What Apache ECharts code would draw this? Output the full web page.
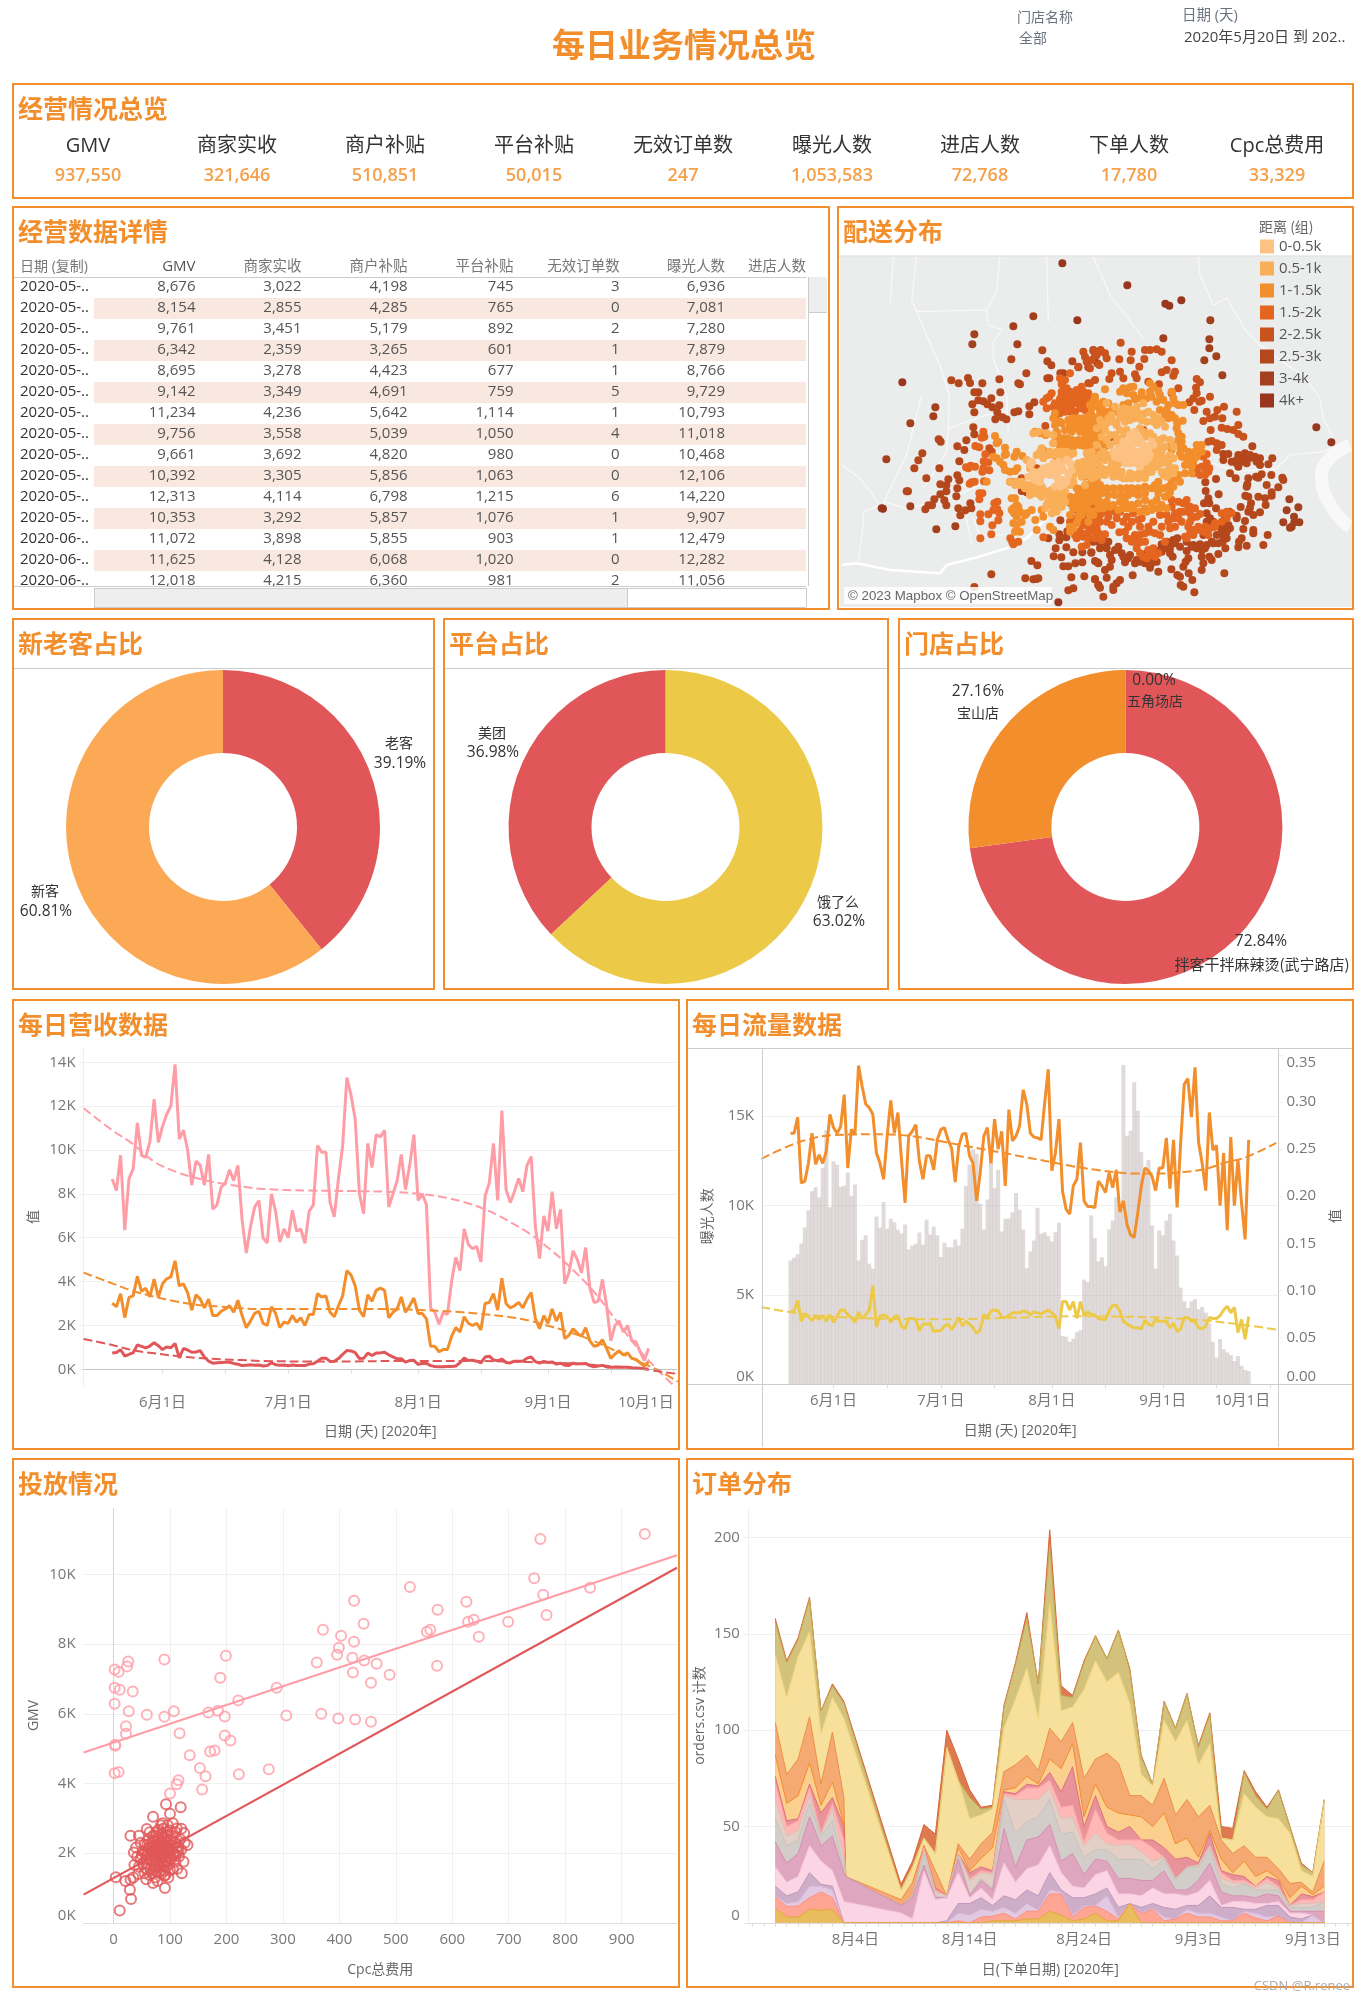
<!DOCTYPE html>
<html><head><meta charset="utf-8"><title>每日业务情况总览</title>
<script src="https://cdn.jsdelivr.net/npm/echarts@6/dist/echarts.min.js"></script>
<style>html,body{margin:0;padding:0;background:#fff}#c{width:1366px;height:2000px}</style></head>
<body><div id="c"></div><script>
const kpiNames=['GMV','商家实收','商户补贴','平台补贴','无效订单数','曝光人数','进店人数','下单人数','Cpc总费用'];
const kpiValues=['937,550','321,646','510,851','50,015','247','1,053,583','72,768','17,780','33,329'];
const tableHeaders=['日期 (复制)','GMV','商家实收','商户补贴','平台补贴','无效订单数','曝光人数','进店人数'];
const tableDates=['2020-05-..','2020-05-..','2020-05-..','2020-05-..','2020-05-..','2020-05-..','2020-05-..','2020-05-..','2020-05-..','2020-05-..','2020-05-..','2020-05-..','2020-06-..','2020-06-..','2020-06-..'];
const gmvHead=[8676,8154,9761,6342,8695,9142,11234,9756,9661,10392,12313,10353,11072,11625,12018];
const merchantHead=[3022,2855,3451,2359,3278,3349,4236,3558,3692,3305,4114,3292,3898,4128,4215];
const subsidyHead=[4198,4285,5179,3265,4423,4691,5642,5039,4820,5856,6798,5857,5855,6068,6360];
const platformHead=[745,765,892,601,677,759,1114,1050,980,1063,1215,1076,903,1020,981];
const invalidHead=[3,0,2,1,1,5,1,4,0,0,6,1,1,0,2];
const exposureHead=[6936,7081,7280,7879,8766,9729,10793,11018,10468,12106,14220,9907,12479,12282,11056];

const gmvTail=[13900,10500,10900,10000,8400,9500,9300,8400,9800,7300,7500,8300,8500,9100,8600,9300,6800,5300,6500,7400,7700,6000,5750,8000,7200,5800,6400,6000,7250,6300,6400,5750,7200,7500,10200,9900,9900,7600,6950,8700,10200,13300,12500,11400,8000,7100,10300,9200,10700,10600,10900,7400,8000,8600,9800,8200,9300,10700,7700,8000,7500,2800,2600,2050,2600,2500,4000,5100,4500,6400,5700,5500,5600,4900,7900,8500,10300,7700,11800,8200,7600,8100,8700,8100,9300,9700,6500,5050,7000,6300,8100,6400,7300,3900,4400,5400,5000,4400,5550,3700,3050,3100,4100,2900,1300,2000,2200,1700,2000,1300,1250,800,400,950];
const merchantTail=[4950,3800,3900,3500,2700,3400,3200,2800,3200,2450,2450,2650,2750,2900,2600,3150,2450,1900,2200,2550,2650,2100,2000,2850,2550,1900,2150,2100,2450,2150,2350,2000,2500,2500,3450,3300,3350,2600,2400,2900,3350,4500,4300,3800,2700,2400,3400,3100,3600,3700,3600,2350,2600,2750,3300,2600,2900,3250,2550,2550,2300,1050,1050,800,900,900,1500,1900,1700,2400,2100,2000,2100,1800,3000,3050,3450,2700,4150,3000,2800,2900,3050,2800,3200,3500,2300,1850,2450,2100,2750,2200,2600,1400,1550,1850,1650,1500,1900,1300,1050,1100,1350,950,500,700,850,650,750,500,450,300,150,350];
const platformTail=[1180,520,950,880,780,790,850,560,370,280,300,310,320,320,270,230,170,190,210,190,200,150,170,290,210,190,200,160,200,170,170,170,240,250,370,510,510,360,370,490,680,860,840,760,490,500,740,630,740,750,780,660,570,480,480,330,400,410,230,270,270,170,130,120,120,130,130,150,300,520,400,420,370,300,560,600,430,390,470,310,290,370,370,370,510,560,350,290,360,310,340,240,280,190,180,280,240,260,270,170,120,150,180,110,90,100,110,90,90,70,60,50,30,0];
const exposureTail=[11100,11850,10550,11170,6930,8090,8330,6750,6470,9390,8750,10200,8700,9260,9070,8640,8440,8940,7550,7770,7860,8490,7800,9200,8380,8830,8330,7120,7920,7660,7660,8100,7770,8700,11100,12300,13150,12900,10100,8640,10330,12500,11000,12000,8550,9260,9270,9630,10700,9760,8660,6490,7430,8050,9870,8420,8510,8290,7990,8510,9030,2700,2660,2380,2550,2920,3030,5850,5720,9440,8180,6880,7100,6600,8660,9160,10460,9630,17860,13900,14180,16900,15300,13000,11770,12550,8880,6470,8600,8330,9160,9540,8050,7210,5410,4650,4270,4650,4760,4200,4330,4010,3400,2380,1490,2530,1970,1780,1640,1300,1580,1040,800,740];
const enterRate=[.267,.267,.284,.214,.216,.235,.267,.234,.244,.235,.248,.287,.273,.267,.274,.308,.230,.271,.266,.339,.317,.298,.294,.287,.246,.235,.218,.264,.302,.267,.289,.239,.193,.264,.269,.276,.237,.218,.243,.243,.228,.260,.271,.273,.260,.251,.215,.253,.266,.267,.243,.235,.195,.225,.264,.273,.235,.282,.250,.269,.211,.292,.259,.264,.275,.313,.298,.267,.263,.262,.260,.299,.335,.227,.246,.282,.205,.186,.181,.211,.218,.257,.195,.189,.189,.188,.216,.211,.204,.225,.209,.228,.183,.195,.170,.159,.156,.182,.211,.230,.227,.221,.206,.230,.230,.262,.208,.260,.188,.257,.319,.325,.284,.337,.257,.235,.206,.289,.249,.254,.190,.246,.164,.263,.190,.239,.193,.154,.260];
const orderRate=[.077,.078,.089,.067,.075,.072,.068,.072,.069,.073,.067,.074,.066,.072,.079,.079,.074,.071,.066,.077,.070,.074,.079,.105,.061,.072,.074,.072,.066,.072,.073,.062,.059,.070,.070,.069,.057,.064,.064,.065,.056,.057,.057,.062,.064,.058,.064,.071,.062,.067,.064,.060,.054,.058,.074,.071,.078,.079,.078,.071,.071,.073,.076,.076,.076,.078,.077,.074,.077,.076,.075,.077,.079,.076,.072,.059,.088,.088,.079,.088,.070,.088,.073,.077,.074,.074,.070,.069,.069,.078,.084,.084,.078,.067,.064,.062,.060,.060,.059,.068,.064,.062,.069,.067,.067,.067,.060,.065,.056,.059,.071,.071,.067,.067,.060,.059,.062,.071,.070,.070,.073,.079,.083,.076,.082,.055,.069,.048,.072];

const revTrendDays=[-6.84,0,4.74,10,15.3,20.5,25.8,31,36.3,46.8,57.4,67.9,73.2,78.4,83.7,88.9,94.2,99.5,104.7,110,115.3,120.5,125.8,131,135];
const gmvTrend=[11900,10900,10300,9470,9000,8700,8480,8330,8220,8150,8130,8080,8000,7870,7640,7300,6800,6200,5440,4530,3460,2170,880,-180,-900];
const merchantTrend=[4410,3920,3590,3310,3090,2930,2860,2780,2750,2750,2750,2740,2710,2660,2600,2510,2400,2220,1950,1640,1260,810,350,-110,-560];
const platformTrend=[1380,1110,880,730,610,520,460,420,380,360,360,380,380,380,380,380,350,330,300,270,200,120,40,-110,-210];
const rateTrendDays=[-8.17,-.6,5.5,11.6,17.7,23.8,29.9,36,42,48.2,54.3,60.4,66.5,72.6,78.7,84.8,90.9,97,103,109.1,115.2,121.3,127.4,135.7];
const enterTrend=[.2397,.2532,.261,.2649,.2656,.266,.2652,.2628,.2585,.2539,.2496,.2454,.2408,.2365,.2319,.2284,.2255,.2241,.2241,.2255,.2284,.2355,.2418,.2567];
const orderTrendDays=[-8.17,-.6,5.5,17.7,29.9,42,54.3,66.5,78.7,90.9,103,115.2,127.4,135.7];
const orderTrend=[.0819,.077,.0738,.0706,.0695,.0691,.0699,.0713,.0723,.072,.0709,.0681,.0628,.0582];

const cpcHigh=[[941,11163],[756,11015],[745,9892],[761,9419],[844,9616],[767,8837],[525,9635],[426,9241],[574,8985],[625,9212],[638,8700],[628,8640],[699,8640],[443,8581],[561,8414],[555,8355],[371,8414],[403,8236],[647,8207],[426,8069],[399,7892],[396,7695],[423,7606],[199,7665],[90,7557],[26,7498],[24,7360],[2,7271],[9,7202],[444,7527],[360,7468],[466,7438],[573,7379],[489,7123],[424,7182],[189,7034],[456,6887],[289,6749],[2,6749],[11,6690],[34,6640],[221,6384],[2,6286],[27,6069],[107,6069],[185,6089],[168,6039],[59,5970],[90,5911],[197,5921],[306,5951],[368,6000],[398,5862],[428,5833],[456,5773],[22,5645],[22,5429],[117,5438],[197,5379],[207,5232],[3,5113],[3,5084],[135,4808],[171,4916],[179,4946],[153,4443],[275,4404],[222,4266],[163,4207],[2,4296],[9,4325],[115,4089],[112,3980],[157,3823],[100,3714]];
const cpcLow=[[93,3406],[119,3318],[70,3044],[100,3130],[59,2690],[87,2857],[105,2857],[79,2660],[112,2710],[125,2580],[30,2500],[45,2500],[131,2230],[40,2160],[36,2020],[124,1750],[121,1420],[113,1550],[92,1370],[4,1310],[35,1300],[30,1240],[21,1200],[70,1140],[78,1200],[29,950],[91,1000],[31,680],[11,350],[64,1370],[55,1420],[37,1660],[45,1610],[48,1830],[52,2050],[55,2240],[58,1700],[60,1950],[62,2150],[62,2380],[65,1560],[66,1800],[68,2050],[68,2280],[70,2500],[72,1650],[72,1900],[74,2150],[74,2350],[76,1480],[76,2600],[78,1750],[78,2000],[80,2250],[80,2450],[82,1600],[82,1850],[84,2100],[84,2300],[85,1400],[85,2550],[87,1700],[87,1950],[88,2200],[88,2700],[90,1500],[90,2050],[92,2350],[92,1800],[94,1600],[94,2150],[95,2500],[96,1900],[97,1300],[97,2300],[99,1700],[100,2050],[100,2650],[102,1850],[103,2400],[105,1550],[105,2150],[107,1950],[108,2300],[110,2600],[110,1750],[112,2050],[114,2200],[116,1900],[118,2400],[120,2100],[74,1300],[68,1420],[58,1250],[44,1400],[48,2300],[42,1900],[96,2800],[84,2800],[64,2600],[120,2700],[126,2300],
[70,1750],[75,1800],[80,1650],[85,1900],[90,1950],[95,2050],[100,2200],[75,2050],[80,2100],[85,2200],[90,2200],[70,2200],[65,1950],[60,2050],[75,1950],[95,1750],[100,1850],[105,1950],[80,1900],[85,1750],[90,1650],[75,1600],[70,1500],[80,1450],[90,1350],[100,1500],[65,2150],[60,2250],[70,2350],[80,2350],[90,2450],[100,2350],[105,2500],[75,2500],[85,2450],[95,2600],[110,2300],[115,2050],[110,1950],[72,2050],[77,2150],[82,2000],[87,2050],[92,2100],[97,2150],[82,2200],[92,1900],[97,2000],[70,2000],[58,1850],[55,2000],[50,1950],[52,1700],[58,1550]];
const cpcHighTrend=[[-53,4887],[998,10550]];
const cpcLowTrend=[[-53,808],[998,10190]];

const orderDates=['2020-07-28','2020-07-29','2020-07-30','2020-07-31','2020-08-01','2020-08-02','2020-08-03','2020-08-03T04:00','2020-08-08','2020-08-09','2020-08-10','2020-08-11','2020-08-12','2020-08-13','2020-08-14','2020-08-15','2020-08-16','2020-08-17','2020-08-18','2020-08-19','2020-08-20','2020-08-21','2020-08-22','2020-08-23','2020-08-24','2020-08-25','2020-08-26','2020-08-27','2020-08-28','2020-08-29','2020-08-30','2020-08-31','2020-09-01','2020-09-02','2020-09-03','2020-09-04','2020-09-05','2020-09-06','2020-09-07','2020-09-08','2020-09-09','2020-09-10','2020-09-11','2020-09-12','2020-09-13','2020-09-14'];
// running top of each band at each date, top band first
const orderBandTops=[
[158,156,139,104,87,76,73,64,54,42,29,19,14,13.5,7.5],
[136,135,117,77,62,53,50,45,40,31,21,14,10,8.5,3],
[148,147,138,85,66,54,53,48,43,36,24,16,11,8.7,3],
[169,168,151,107,83,72,70,66,62,55,40,26,19,13,7],
[110,110,98,72,61,57,47,46,45,40,32,20,19,16,6.5],
[124,123,117,99,73,65,62,59,53,45,27,19,17,13,7],
[115,114,106,65,51,50,43,34,29,26,11,0,0,0,0],
[115,114,106,24,24,24,24,24,24,24,11,0,0,0,0],
[20,17,17,12,9,9,9,9,9,9,5,0,0,0,0],
[32,29,29,21,14,14,14,14,14,13,2,0,0,0,0],
[51,44,44,40,40,39.5,39,38,36,30,26.6,0,0,0,0],
[46,36,36,27,18,18,17,16,14,13,12,0,0,0,0],
[100,91,91,14,14,14,14,14,13,13,13,1,0,0,0],
[85,74,74,41,39,36,36,36,35,33,26,10,5,1,0],
[69,65,54,33,27,26,23,22,15,14,13,10,4,0,0],
[60,59,56,41,33.5,29,27,26,23,22,18,13,7,3,0],
[61,60,59,47,39,27,26,25,18,17,12,9,6,3.4,1],
[113,112,101,78.5,69,68,67,66,64,49,31,14,8,5,1],
[135,134,116,82,70,67,66,64,46.5,29,21,12,5,2,1],
[161,158,132,87,76,72,70,64,52.5,43,28,17,10,6,2],
[124,124,106,79,72,71,70,64,55,44.5,30,14,6.5,6,2],
[204,196,166,101,85,78,74,70,64,51,40,26,17,15,6],
[123,118,110,94,80,68,60,54,46,32,26,17,16,15,4],
[118,117,112,104,93,81,61,55,47,36,19,13,4,3,1],
[136,135,121,75,55,50,42,40,34,25,18,13,9,8,2],
[149,149,136,85,72,66,59,46.5,38,33,25,15,9,8.7,5],
[137,137,125,88,60,50,46.5,41,38,32,27,18,14,6,1],
[152,152,130,83,57,47,43,40,33,23,15,8,3,2,1],
[132,131,114,66,56,50,43,41,33,23,15,10,10,10,10],
[87,86,77,66,55,43,43,37,33,22,14,8,5,4.6,0],
[72,72,71,61,50,43,39,32,28,22,18,10,7.5,7,0],
[115,115,105,75,57,39,34,34,33,27,15,8,3,1,0],
[101,101,94,56,41,33,23,23,22,17,15,7,2,2,0],
[119,119,105,64,44,34,29,29,29,17,14,9,7,5,0],
[92,91,82,55,34,31,30,30,29,22,16,9,5,3,0],
[109,108,93,61,48,46.5,40,40,38,31,22,14,5,3,0],
[50,44,44,43,33,27,26,23,20,16,9,8,3,1,0],
[49,43,43,36,26,25,22,21,18,14,11,8,1,1,0],
[79,78,67,40,32,24,22,20.5,20,14,11,7,6,5,0],
[68,66,60,34,24,19,19,18,17,13,10,7,5,2.5,0],
[60,59,55,34,27,24,23,21,17,15,10,9,3,1,0],
[69,69,54,28,23,22,19,18,17,14,11,9,3.5,3.5,0],
[50,50,46.5,20.5,13,9,9,9,8,6,5,3,0,0,0],
[31,30,27,21,19,15,12,10,8,6,5,2,0,0,0],
[26,26,24,16,14.5,13.6,12,10,8,6,4,4,4,0,0],
[64,63,63,32,19,16,16,11,11,6,0,0,0,0,0]];
const bandFill=['#dd7a50','#d2c27c','#f6e09c','#f5a973','#fbd08f','#e8929a','#ffb8b6','#e3cfc6','#d3cdc9','#dfa6c0','#fbd5e4','#cdadc8','#e2c9e2','#ffa594','#e9bc5e'];
const bandEdge=['#d9643a','#c4ae55','#f3d77f','#ef8f45','#f28e2b','#e2707a','#ffa5a5','#dcc0b4','#c9c2bd','#d690b0','#f8c6da','#bf98bb','#d8b6d8','#ff8f7a','#e0a93e'];

const mapBandNames=['0-0.5k','0.5-1k','1-1.5k','1.5-2k','2-2.5k','2.5-3k','3-4k','4k+'];
const mapBandColors=['#fdc283','#f9ae58','#f28e2b','#e3651f','#c9531d','#b5471d','#a3401e','#98371e'];
// map readings: west sheet and east sheet of the map, east sheet starts 750 units to the right
const west0=[[580,650],[590,665],[600,670],[610,660],[625,635],[640,625],[655,620],[665,630],[680,615],[690,625],[645,640],[655,650],[670,645],[685,660],[650,665],[665,675],[680,680],[575,620],[570,630],[585,675],[600,680],[670,690],[565,665],[575,665],[610,640],[600,650],[620,650],[635,640],[640,650],[630,660],[655,680],[645,695],[660,695],[695,645]];
const east0=[[120,540],[100,560],[115,560],[130,560],[145,565],[160,570],[175,575],[190,570],[85,580],[70,590],[85,595],[100,590],[115,585],[135,590],[150,590],[170,590],[180,600],[95,610],[110,605],[125,605],[140,610],[155,610],[165,620],[105,625],[140,625],[150,635],[135,530],[125,550],[145,545],[185,560],[125,575],[105,575],[90,610],[75,605],[165,605],[175,610],[130,620],[120,625],[95,595],[145,600],[160,580],[150,555],[135,545]];
const west1=[[545,680],[540,690],[555,700],[570,710],[580,700],[595,710],[600,720],[615,715],[630,730],[640,740],[655,730],[670,720],[650,715],[660,705],[675,710],[620,750],[640,760],[650,755],[675,740],[690,690],[700,680],[715,625],[720,630],[700,640],[690,655],[660,610],[630,590],[625,600],[610,610],[575,625],[570,640],[560,615],[510,680],[580,535],[595,530],[620,535],[640,540],[640,565],[605,580],[655,600],[665,590],[680,590],[700,595],[735,640],[745,660],[735,690],[725,665],[710,650],[560,690],[575,690],[590,695],[605,695],[610,705],[625,710],[635,705],[640,720],[625,740],[660,745],[665,755],[650,770],[635,775],[615,760],[605,725],[585,715],[570,720],[530,680],[525,690],[700,660],[710,640],[725,650],[600,590],[590,600],[615,600],[640,600],[650,590],[670,600],[690,600]];
const east1=[[50,445],[75,455],[110,462],[125,465],[140,455],[160,445],[175,470],[190,480],[205,490],[215,500],[165,475],[145,475],[125,480],[105,480],[90,490],[80,510],[90,525],[75,540],[60,540],[45,525],[20,520],[30,495],[55,490],[65,480],[5,590],[30,600],[40,590],[55,600],[45,615],[25,625],[35,640],[50,645],[65,630],[80,640],[95,650],[100,670],[120,655],[135,660],[155,660],[170,655],[185,650],[200,635],[215,625],[225,610],[235,625],[245,640],[215,650],[220,660],[230,665],[165,670],[185,610],[210,555],[220,550],[240,555],[250,575],[190,545],[180,535],[205,600],[45,660],[70,665],[20,650],[0,640],[5,670],[-5,655],[-15,640],[65,610],[70,620],[85,625],[60,650],[75,650],[90,665],[110,670],[125,670],[145,670],[150,650],[170,640],[180,630],[195,620],[205,615],[205,575],[215,590],[225,575],[195,590],[200,560],[160,530],[150,520],[165,545],[110,525],[105,535],[95,550],[80,560],[60,570],[50,555],[35,545],[20,570],[15,610],[10,630],[30,660],[15,665],[-5,610],[-10,595],[-20,620],[-20,660],[-25,640],[0,620],[240,600],[250,610],[235,645],[235,660],[250,655],[255,640],[170,500],[155,495],[135,490],[120,495],[105,500],[200,510],[225,515],[190,500],[100,460],[90,470],[70,500],[50,505],[35,510]];
const west2=[[465,543],[475,560],[470,565],[495,578],[498,597],[494,600],[460,605],[470,610],[480,620],[490,630],[495,645],[510,650],[525,648],[530,590],[523,605],[547,603],[440,680],[517,680],[510,680],[532,640],[520,760],[515,765],[522,775],[530,750],[535,755],[525,730],[515,730],[540,770],[530,785],[545,800],[555,780],[575,765],[560,775],[520,805],[525,830],[540,830],[530,810],[586,795],[610,785],[605,765],[630,815],[640,825],[590,825],[585,530],[600,535],[617,540],[652,535],[610,585],[640,565],[670,550],[680,550],[695,555],[720,570],[730,572],[745,590],[755,595],[765,430],[760,440],[640,490],[645,510],[650,530],[665,505],[675,525],[660,500],[645,475],[700,490],[715,490],[730,490],[745,485],[755,480],[770,490],[710,505],[725,510],[740,505],[755,510],[770,510],[720,530],[735,535],[750,540],[765,535],[730,555],[745,560],[760,565],[770,560],[735,665],[745,650],[738,690],[755,680],[770,675],[740,635],[775,720],[760,690],[780,700],[730,755],[745,765],[760,780],[690,780],[710,805],[725,780],[700,820],[745,800],[770,740],[775,760],[690,815],[690,830],[650,550],[660,560],[660,575],[670,575],[680,570],[690,575],[700,575],[705,560],[715,555],[700,520],[690,510],[685,495],[695,530],[710,520],[725,495],[740,520],[755,525],[745,575],[760,585],[770,580],[775,610],[765,620],[775,640],[770,655],[755,640],[755,665],[715,790],[735,760],[720,770],[750,720],[765,720],[740,700],[750,705],[695,735],[710,745],[700,760],[720,740],[730,730],[710,725],[720,705]];
const east2=[[15,425],[45,403],[100,400],[120,397],[130,395],[90,410],[110,415],[135,433],[155,412],[180,410],[205,408],[210,420],[220,435],[235,450],[250,430],[255,445],[265,450],[280,450],[245,410],[180,385],[190,395],[230,465],[40,440],[25,455],[55,445],[70,460],[10,440],[5,460],[30,470],[0,480],[15,490],[40,490],[15,510],[0,520],[20,530],[10,550],[30,560],[45,575],[0,565],[15,590],[0,600],[235,490],[260,520],[265,535],[265,555],[270,575],[245,570],[245,585],[270,595],[275,605],[290,610],[300,600],[315,590],[320,570],[335,570],[310,620],[295,625],[255,670],[265,660],[270,680],[245,680],[235,695],[278,497],[305,655],[205,680],[15,680],[30,690],[50,700],[70,700],[90,700],[110,700],[125,700],[145,720],[165,715],[165,735],[185,745],[195,690],[205,715],[200,735],[215,750],[235,720],[225,725],[240,712],[10,720],[30,740],[50,740],[60,755],[70,750],[90,740],[105,740],[130,760],[145,745],[165,760],[0,740],[10,770],[0,780],[-10,760],[-30,745],[-45,730],[-60,725],[-20,700],[-40,700],[-10,690],[5,700],[210,760],[230,760],[125,750],[0,450],[20,445],[35,455],[45,470],[60,470],[25,500],[35,525],[5,505],[0,540],[25,550],[55,480],[80,470],[100,450],[115,445],[130,420],[150,430],[170,430],[185,425],[200,440],[210,465],[225,480],[245,480],[255,490],[262,505],[275,560],[275,545],[280,580],[295,590],[305,605],[320,605],[335,590],[285,630],[305,635],[285,655],[250,695],[220,700],[200,700],[185,700],[165,695],[145,700],[135,715],[115,720],[95,720],[75,720],[55,720],[35,715],[20,705],[40,760],[25,760],[85,765],[100,760],[115,760],[150,770],[170,770],[185,765],[200,760],[-20,720],[-35,720],[-20,760],[-30,770],[-50,760],[-60,745],[-45,755],[-10,740]];
const west3=[[430,530],[425,548],[433,545],[406,573],[418,577],[436,598],[431,619],[445,622],[430,640],[378,637],[385,640],[392,632],[405,635],[427,650],[448,646],[389,686],[395,682],[404,680],[432,679],[418,715],[427,715],[418,733],[472,740],[463,745],[421,778],[445,778],[460,765],[472,763],[478,775],[421,799],[457,811],[475,796],[454,838],[421,850],[511,850],[517,862],[520,868],[535,860],[610,847],[620,430],[628,425],[635,415],[660,432],[665,410],[675,420],[690,410],[700,425],[715,420],[725,395],[720,430],[745,415],[740,450],[712,445],[695,450],[680,452],[668,455],[655,460],[650,478],[620,460],[705,470],[665,388],[675,375],[660,370],[690,355],[710,765],[705,790],[728,795],[745,780],[755,790],[735,810],[750,825],[720,830],[705,840],[730,845],[745,850],[775,835],[765,850],[740,870],[725,875],[775,800],[770,770],[740,725],[750,745],[760,760],[775,745],[745,740],[725,810],[645,445],[660,445],[675,440],[690,430],[705,440],[725,445],[735,430],[750,435],[770,450],[720,460],[735,465],[690,470],[675,470],[660,475],[640,455],[610,440],[665,420],[680,400],[710,405],[730,410],[755,455],[690,800],[700,810],[740,835],[710,850],[755,815],[770,820],[780,780],[765,790]];
const east3=[[10,830],[25,835],[45,838],[35,855],[-5,805],[15,800],[40,770],[60,765],[75,770],[80,790],[100,800],[115,815],[125,800],[145,795],[155,790],[175,815],[180,830],[135,840],[145,855],[125,860],[110,850],[165,860],[105,830],[88,832],[190,800],[210,780],[230,780],[235,800],[215,815],[250,790],[245,755],[265,740],[280,745],[295,755],[290,735],[270,770],[265,790],[300,775],[320,785],[330,777],[300,800],[295,815],[320,825],[310,840],[290,850],[345,815],[375,805],[355,840],[335,825],[140,880],[180,895],[205,895],[150,895],[195,905],[225,860],[255,815],[320,640],[335,635],[345,640],[355,650],[310,655],[330,660],[345,660],[358,640],[350,625],[350,598],[340,605],[332,590],[130,850],[140,848],[150,840],[140,860],[150,862],[160,905],[170,910],[185,900],[190,880],[175,885],[285,845],[300,835],[310,825],[325,815],[340,830],[360,820],[375,815],[395,800],[410,790],[425,775],[395,775],[410,770],[30,800],[50,800],[65,810],[55,785],[90,770],[110,785],[130,775],[150,815],[165,835],[195,835],[210,840],[240,820],[255,775],[275,800],[300,755],[280,770],[305,790],[315,760],[245,735]];
const west4=[[448,580],[455,590],[545,670],[590,640],[650,607],[616,513]];
const east4=[[92,263],[125,290],[165,285],[180,285],[200,283],[215,290],[163,312],[148,335],[122,316],[88,313],[245,316],[215,352],[230,345],[255,350],[250,362],[320,372],[330,382],[318,398],[320,415],[310,430],[298,442],[328,440],[335,437],[360,425],[313,465],[340,498],[350,470],[382,465],[375,485],[360,490],[397,490],[402,455],[440,470],[445,510],[395,518],[412,522],[430,525],[445,537],[460,545],[362,525],[355,560],[365,558],[380,565],[395,570],[380,585],[265,400],[10,288],[32,285],[45,295],[50,310],[20,300],[28,330],[5,315],[0,340],[65,355],[58,372],[90,350],[100,370],[135,358],[140,370],[175,380],[207,388],[245,415],[0,385],[15,375],[-20,290],[-15,305],[-10,320],[-35,335],[-5,385],[61,547],[160,525]];
const west5=[[514,313],[334,376],[356,385],[384,369],[390,384],[427,385],[478,373],[481,412],[559,355],[535,385],[540,388],[296,553],[302,560],[352,574],[373,585],[379,556],[400,517],[403,538],[298,640],[259,670],[223,640],[235,616],[247,595],[301,688],[325,673],[358,619],[358,676],[352,661],[352,700],[349,724],[319,691],[319,709],[301,718],[283,733],[313,736],[319,751],[276,751],[265,751],[256,763],[355,760],[376,766],[361,781],[391,745],[394,760],[200,709],[204,709],[415,412],[403,412],[403,472],[397,448],[415,436],[430,439],[442,448],[454,430],[457,457],[478,451],[472,472],[466,493],[499,493],[487,487],[523,472],[535,469],[568,454],[568,478],[583,442],[607,286],[622,319],[634,331],[697,319],[715,337],[670,355],[661,355],[622,370],[628,370],[745,337],[760,285],[772,325],[765,305],[778,290],[574,918],[592,931],[454,958],[556,970],[580,973],[589,972],[595,970],[694,967],[733,964],[685,1006],[700,1000],[641,904],[664,907],[670,934],[685,934],[706,925],[727,922],[647,880],[679,877],[700,892],[727,892],[754,892],[772,922],[658,856],[679,847],[658,838],[625,850],[661,796],[682,829],[754,856],[403,996],[765,973],[775,990],[555,695],[560,712],[545,708]];
const east5=[[15,973],[25,990],[30,998],[40,1025],[50,968],[45,945],[60,935],[65,915],[90,975],[80,985],[70,995],[70,1005],[128,961],[205,950],[244,943],[262,960],[270,965],[272,990],[280,995],[296,955],[307,975],[313,1012],[403,955],[280,935],[287,920],[295,910],[290,888],[335,905],[340,925],[335,945],[365,915],[358,905],[385,897],[406,880],[445,877],[470,872],[520,870],[533,840],[490,835],[490,825],[460,822],[455,850],[447,860],[398,860],[370,865],[350,870],[336,885],[330,868],[310,870],[250,855],[262,850],[230,860],[240,880],[215,868],[210,885],[240,895],[248,905],[200,890],[190,905],[170,895],[175,915],[180,938],[150,920],[135,925],[105,922],[95,895],[75,885],[85,875],[30,880],[4,893],[15,918],[25,925],[487,574],[547,610],[510,610],[535,628],[510,630],[495,605],[485,608],[465,595],[470,610],[455,620],[440,625],[425,620],[445,635],[415,597],[400,597],[400,615],[420,655],[437,670],[378,672],[346,682],[347,708],[386,718],[355,730],[342,745],[358,745],[378,760],[350,775],[360,790],[410,775],[418,770],[405,790],[440,782],[452,756],[466,722],[475,725],[483,745],[475,770],[490,780],[510,772],[505,725],[525,730],[527,750],[545,712],[545,722],[565,697],[580,675],[577,668],[530,690],[472,688],[470,695],[475,670],[498,665],[515,658],[505,668],[544,660],[480,758],[465,798],[405,800],[395,810],[370,800],[352,825],[340,840],[410,830],[420,775],[100,905],[115,910],[120,900],[140,915],[165,925],[185,925],[200,920],[215,890],[225,880],[235,870],[255,865],[270,875],[290,860],[305,875],[320,880],[345,880],[365,860],[385,865],[400,845],[410,850],[420,820],[415,810],[440,790],[370,815],[350,800],[395,825],[380,840],[60,900],[50,880],[40,860],[55,860],[10,860],[25,860],[445,600],[460,600],[480,600],[500,620],[470,625],[440,615]];
const west6=[[532,268],[520,214],[403,238],[397,268],[286,457],[280,484],[211,505],[139,613],[211,754],[289,823],[346,814],[580,184]];
const east6=[[361,196],[220,250],[358,253],[358,280],[379,304],[343,316],[397,361],[598,733],[625,757],[590,766],[612,785],[605,815],[580,802],[600,818],[628,802],[613,802]];
const west7=[[667,25],[712,196],[187,382],[129,761],[125,760],[655,1042]];
const east7=[[112,91],[274,136],[226,146],[238,152],[679,517],[724,562]];
const roadsWest=[
[[215,135],[260,240],[300,330],[328,420],[325,520],[320,590],[290,640],[250,700]],
[[230,170],[440,165],[445,210],[485,225],[460,260],[460,310],[500,420],[505,530]],
[[5,630],[60,670],[120,750],[70,770],[70,810],[55,920]],
[[130,740],[200,760],[330,730],[420,690]],
[[245,420],[200,600],[130,745]],
[[160,5],[150,150]],[[230,5],[215,135]],[[480,5],[470,110],[440,165]],
[[325,520],[440,480],[500,470]],[[620,5],[625,200]],
[[380,790],[395,870]],[[400,790],[420,840],[490,840]]];
const riverWest=[[5,930],[50,925],[150,945],[300,955],[320,930],[400,910],[500,880],[560,850],[620,790],[630,760]];
const roadsEast=[
[[325,5],[330,60],[370,150],[410,130],[470,230],[510,270],[590,330],[640,360],[690,430],[700,490],[730,550]],
[[10,5],[60,120],[160,250]],
[[370,625],[440,650],[560,640],[600,600],[700,590],[740,575]]];
const bendEast=[[780,570],[720,610],[695,660],[710,730],[760,800],[780,815]];

const FONT='"Open Sans","Noto Sans CJK SC",sans-serif';
const CJK='"Noto Sans CJK SC",sans-serif';
const ORANGE='#f28e2b';
const DAY=86400000;
const base=new Date(2020,4,20).getTime();
const at=o=>base+o*DAY;
const d=(m,dd)=>new Date(2020,m-1,dd).getTime();
const monthLabel=v=>{const t=new Date(v);return (t.getMonth()+1)+'月'+t.getDate()+'日';};
const monthTicks=[d(6,1),d(7,1),d(8,1),d(9,1),d(10,1)];
const monthMinor=[d(6,1),d(6,16),d(7,1),d(7,16),d(8,1),d(8,16),d(9,1),d(9,16),d(10,1)];
const series_=(vals)=>vals.map((v,i)=>[at(i),v]);
const gmv=series_(gmvHead.concat(gmvTail));
const merchant=series_(merchantHead.concat(merchantTail));
const platform=series_(platformHead.concat(platformTail));
const exposure=series_(exposureHead.concat(exposureTail));
const trend=(days,vals)=>days.map((x,i)=>[at(x),vals[i]]);
const mapPts=(w,e)=>w.concat(e.map(p=>[p[0]+750,p[1]]));
const kLabel=v=>(v/1000)+'K';

const g=[];
const text=(x,y,s,o={})=>g.push({type:'text',silent:true,z:o.z||50,style:{x,y,text:s,fill:o.c||'#555',font:(o.b?(o.b===1?'bold ':o.b+' '):'')+(o.s||14)+'px '+(o.f||FONT),textAlign:o.a||'left',textVerticalAlign:'middle',align:o.a||'left',verticalAlign:'middle'}});
const rect=(x,y,w,h,fill,z,stroke)=>g.push({type:'rect',silent:true,z:z||40,shape:{x,y,width:w,height:h},style:{fill:fill||'none',stroke:stroke||null,lineWidth:stroke?2:0}});
const hline=(x1,y1,x2,y2,c,z)=>g.push({type:'line',silent:true,z:z||45,shape:{x1,y1,x2,y2},style:{stroke:c,lineWidth:1}});
const panel=(x,y,w,h,title)=>{rect(x,y,w,h,'none',60,ORANGE);text(x+5,y+24,title,{s:25,b:1,c:ORANGE,f:CJK,z:61});};

text(684,44,'每日业务情况总览',{s:33,b:1,c:ORANGE,f:CJK,a:'center'});
text(1017,17,'门店名称',{s:14,c:'#6b7280',f:CJK});text(1019,38,'全部',{s:14,c:'#6b7280',f:CJK});
text(1182,16,'日期 (天)',{s:14.5,c:'#6b7280'});text(1184,38,'2020年5月20日 到 202..',{s:15,c:'#444'});

panel(13,84,1340,114,'经营情况总览');
const kpiX=[88,237,385,534,683,832,980,1129,1277];
kpiNames.forEach((n,i)=>{text(kpiX[i],146,n,{s:20,c:'#333',a:'center'});text(kpiX[i],176,kpiValues[i],{s:18,b:600,c:'#f5a04a',a:'center'});});

panel(13,207,816,402,'经营数据详情');
const colX=[195.5,301.5,407.6,513.6,619.7,725];
text(20,267,tableHeaders[0],{s:14,c:'#777'});
tableHeaders.slice(1).forEach((h,i)=>text(i<6?colX[i]:806,267,h,{s:i==0?15:14.5,c:i==0?'#555':'#777',a:'right'}));
hline(13,277.5,806,277.5,'#ccc');
tableDates.forEach((dt,r)=>{
  const y=287+21*r;
  if(r%2==1)rect(94,277+21*r,712,21,'#f9e8df',41);
  text(20,y,dt,{s:15,c:'#333',z:46});
  [gmvHead,merchantHead,subsidyHead,platformHead,invalidHead,exposureHead].forEach((col,c)=>text(colX[c],y,col[r].toLocaleString('en-US'),{s:15,c:'#555',a:'right',z:46}));
});
rect(14,586,813,22,'#fff',47);
hline(13,586.5,806,586.5,'#ccc',48);
rect(94,588,533,19,'#eee',49);
hline(94,588.5,806,588.5,'#ccc',49);hline(94,607.5,806,607.5,'#ccc',49);hline(94.5,588,94.5,607,'#ccc',49);hline(806.5,588,806.5,607,'#ccc',49);hline(627.5,588,627.5,607,'#ccc',49);
rect(808,277,19,35,'#eee',49);
hline(808.5,277,808.5,586,'#ccc',49);hline(808,312.5,827,312.5,'#ccc',49);

panel(838,207,515,402,'配送分布');
hline(839,256.5,1352,256.5,'#e6e6e6',45);
text(1259,227,'距离 (组)',{s:14,c:'#666',f:CJK,z:61});
rect(844,587,208,17,'rgba(255,255,255,.85)',46);
text(848,596,'© 2023 Mapbox © OpenStreetMap',{s:13.3,c:'#666',f:'"Liberation Sans",sans-serif',z:47});

panel(13,619,421,370,'新老客占比');panel(444,619,444,370,'平台占比');panel(899,619,454,370,'门店占比');
[[14,433],[445,887],[900,1352]].forEach(r=>hline(r[0],668.5,r[1],668.5,'#ccc'));
const pieLabels=[[399,743,'老客'],[400,764,'39.19%'],[45,891,'新客'],[46,912,'60.81%'],[492,733,'美团'],[493,753,'36.98%'],[838,902,'饿了么'],[839,922,'63.02%'],[1154,681,'0.00%'],[1155,701,'五角场店'],[978,692,'27.16%'],[978,713,'宝山店'],[1261,942,'72.84%'],[1262,964,'拌客干拌麻辣烫(武宁路店)']];
pieLabels.forEach(p=>{const pct=/%/.test(p[2]);text(p[0],p[1],p[2],{s:pct?15.5:(p[2].length>8?15:14),c:'#333',a:'center',f:pct?FONT:CJK});});

panel(13,1000,666,449,'每日营收数据');
panel(687,1000,666,449,'每日流量数据');
hline(688,1048.5,1352,1048.5,'#ccc');hline(688,1384.5,1352,1384.5,'#ccc');
hline(762.5,1048,762.5,1447,'#ccc');hline(1278.5,1048,1278.5,1447,'#ccc');
panel(13,1459,666,528,'投放情况');
panel(687,1459,666,528,'订单分布');
text(1350,1986,'CSDN @R.renee',{s:13,c:'#aaa',a:'right',z:70});

const axisLab={color:'#777',fontSize:15,fontFamily:FONT};
const nameSt={color:'#666',fontSize:14,fontFamily:FONT};
const gridLine={show:true,lineStyle:{color:'#f0f0f0',width:1}};
const xT=(gridIndex,min,max,lab,tick,name,gap,extra)=>Object.assign({type:'value',gridIndex,min,max,name,nameLocation:'middle',nameGap:gap,nameTextStyle:nameSt,
  axisLine:{show:true,lineStyle:{color:'#ddd'}},axisTick:{show:true,length:4,lineStyle:{color:'#ddd'},customValues:tick},splitLine:{show:false},
  axisLabel:Object.assign({},axisLab,{customValues:lab,formatter:monthLabel,margin:9,hideOverlap:false,alignMaxLabel:extra&&extra.maxRight?'right':undefined})},extra||{});
const yV=(gridIndex,min,max,ticks,fmt,name,gap,extra,shiftMin)=>Object.assign({type:'value',gridIndex,min,max,name,nameLocation:'middle',nameGap:gap,nameTextStyle:nameSt,
  axisLine:{show:true,lineStyle:{color:'#eee'}},axisTick:{show:true,length:4,lineStyle:{color:'#eee'},customValues:ticks},splitLine:gridLine,
  axisLabel:Object.assign({},axisLab,{customValues:ticks,formatter:fmt,margin:8,verticalAlignMinLabel:shiftMin?'bottom':undefined})},extra||{});

const grid=[
 {left:840,top:255,width:512,height:352,show:true,backgroundColor:'#ebecec',borderWidth:0},
 {left:83.6,top:1048,width:593.4,height:338},
 {left:762,top:1048,width:516.4,height:336.3},
 {left:83.6,top:1508.2,width:593.4,height:414.6},
 {left:747.8,top:1508.2,width:605,height:414.6}];
const orderDay=[];for(let t=d(7,26);t<=d(9,16);t+=DAY)orderDay.push(t);
const xAxis=[
 {type:'value',gridIndex:0,min:0,max:1536,show:false},
 xT(1,at(-6.83),at(134.8),monthTicks,monthMinor,'日期 (天) [2020年]',39,{maxRight:1}),
 xT(2,at(-7.97),at(136.3),monthTicks,monthMinor,'日期 (天) [2020年]',40,{maxRight:1}),
 {type:'value',gridIndex:3,min:-53,max:998,name:'Cpc总费用',nameLocation:'middle',nameGap:40,nameTextStyle:nameSt,
  axisLine:{show:true,lineStyle:{color:'#ddd'}},axisTick:{show:false,customValues:[0,100,200,300,400,500,600,700,800,900]},splitLine:gridLine,
  axisLabel:Object.assign({},axisLab,{customValues:[0,100,200,300,400,500,600,700,800,900],margin:9})},
 xT(4,d(7,25)+.6*DAY,d(9,16)+.5*DAY,[d(8,4),d(8,14),d(8,24),d(9,3),d(9,13)],orderDay,'日(下单日期) [2020年]',40)];
const yAxis=[
 {type:'value',gridIndex:0,min:0,max:1056,inverse:true,show:false},
 yV(1,-760,14650,[0,2000,4000,6000,8000,10000,12000,14000],kLabel,'值',43),
 yV(2,0,18810,[0,5000,10000,15000],kLabel,'曝光人数',47,{axisLine:{show:false},axisTick:{show:false,customValues:[0,5000,10000,15000]}},true),
 yV(2,0,.3576,[0,.05,.1,.15,.2,.25,.3,.35],v=>v.toFixed(2),'值',51,{position:'right',splitLine:{show:false},axisLine:{show:false},axisLabel:Object.assign({},axisLab,{customValues:[0,.05,.1,.15,.2,.25,.3,.35],formatter:v=>v.toFixed(2),margin:8,verticalAlignMinLabel:'bottom',verticalAlignMaxLabel:'top'})}),
 yV(3,0,11900,[0,2000,4000,6000,8000,10000],kLabel,'GMV',43,null,true),
 yV(4,0,215.2,[0,50,100,150,200],v=>v,'orders.csv 计数',41,null,true)];

const series=[];
const line=(xi,yi,data,color,width,name,extra)=>series.push(Object.assign({type:'line',name,xAxisIndex:xi,yAxisIndex:yi,data,symbol:'none',lineStyle:{color,width},itemStyle:{color},animation:false,silent:true,z:3},extra||{}));
const dash={smooth:.4,z:4};
// map
roadsWest.forEach((r,i)=>line(0,0,r,'#f9f9f9',1.2,'road w'+i,{z:1}));
roadsEast.forEach((r,i)=>line(0,0,r.map(p=>[p[0]+750,p[1]]),'#f9f9f9',1.2,'road e'+i,{z:1}));
line(0,0,riverWest,'#ffffff',2.5,'river',{z:1});
line(0,0,bendEast.map(p=>[p[0]+750,p[1]]),'#f8f8f8',13,'bend',{z:1,smooth:.5});
const mapW=[west0,west1,west2,west3,west4,west5,west6,west7],mapE=[east0,east1,east2,east3,east4,east5,east6,east7];
for(let b=7;b>=0;b--)series.push({type:'scatter',name:mapBandNames[b],xAxisIndex:0,yAxisIndex:0,data:mapPts(mapW[b],mapE[b]),symbolSize:8,itemStyle:{color:mapBandColors[b],opacity:1},z:3+(7-b)*.1,animation:false,silent:true,clip:true});
// revenue
const zeroLine={silent:true,symbol:'none',animation:false,label:{show:false},lineStyle:{type:'dotted',color:'#aaa',width:1},data:[{yAxis:0}]};
line(1,1,gmv,'#ff9da7',3,'GMV');
line(1,1,merchant,ORANGE,3,'商家实收');
line(1,1,platform,'#e15759',3,'平台补贴',{markLine:zeroLine});
line(1,1,trend(revTrendDays,gmvTrend),'#ff9da7',2,'GMV 趋势',Object.assign({},dash,{lineStyle:{color:'#ff9da7',width:2,type:[9,4]}}));
line(1,1,trend(revTrendDays,merchantTrend),ORANGE,2,'商家实收 趋势',Object.assign({},dash,{lineStyle:{color:ORANGE,width:2,type:[9,4]}}));
line(1,1,trend(revTrendDays,platformTrend),'#e15759',2,'平台补贴 趋势',Object.assign({},dash,{lineStyle:{color:'#e15759',width:2,type:[9,4]}}));
// traffic
series.push({type:'bar',name:'曝光人数',xAxisIndex:2,yAxisIndex:2,data:exposure,barWidth:4,itemStyle:{color:'rgba(186,176,172,.45)'},animation:false,silent:true,z:2});
line(2,3,series_(enterRate),ORANGE,3,'进店率');
line(2,3,series_(orderRate),'#edc948',3,'下单率');
line(2,3,trend(rateTrendDays,enterTrend),ORANGE,2,'进店率 趋势',Object.assign({},dash,{lineStyle:{color:ORANGE,width:2,type:[9,4]}}));
line(2,3,trend(orderTrendDays,orderTrend),'#edc948',2,'下单率 趋势',Object.assign({},dash,{lineStyle:{color:'#edc948',width:2,type:[9,4]}}));
// scatter
const ring=c=>({color:'rgba(255,255,255,0)',borderColor:c,borderWidth:2});
series.push({type:'scatter',name:'GMV',xAxisIndex:3,yAxisIndex:4,data:cpcHigh,symbolSize:10,itemStyle:ring('#ff9da7'),animation:false,silent:true,z:3,
  markLine:{silent:true,symbol:'none',animation:false,label:{show:false},lineStyle:{type:'dotted',color:'#bbb',width:1},data:[{xAxis:0}]}});
series.push({type:'scatter',name:'商家实收',xAxisIndex:3,yAxisIndex:4,data:cpcLow,symbolSize:10,itemStyle:ring('#e15759'),animation:false,silent:true,z:3});
line(3,4,cpcHighTrend,'#ff9da7',2.2,'GMV 趋势线');
line(3,4,cpcLowTrend,'#e15759',2.2,'商家实收 趋势线');
// orders: each band is drawn down to the axis, tallest first, so the one below covers it
const bandTs=orderDates.map(s=>new Date(s.length>10?s:s+'T00:00').getTime());
for(let b=0;b<15;b++){
  series.push({type:'line',name:'订单 '+b,xAxisIndex:4,yAxisIndex:5,symbol:'none',
    data:orderBandTops.map((row,i)=>[bandTs[i],row[b]]),
    lineStyle:{color:bandEdge[b],width:1},areaStyle:{color:bandFill[b],opacity:1,origin:'start'},animation:false,silent:true,z:3});
}
// donuts
const pie=(cx,data)=>series.push({type:'pie',center:[cx,827],radius:[74,157],startAngle:90,clockwise:true,data,label:{show:false},labelLine:{show:false},silent:true,animation:false,z:3,stillShowZeroSum:false});
pie(223,[{name:'老客',value:39.19,itemStyle:{color:'#e15759'}},{name:'新客',value:60.81,itemStyle:{color:'#fba954'}}]);
pie(665.5,[{name:'饿了么',value:63.02,itemStyle:{color:'#edc948'}},{name:'美团',value:36.98,itemStyle:{color:'#e15759'}}]);
pie(1125.4,[{name:'五角场店',value:0,itemStyle:{color:'#e15759'}},{name:'拌客干拌麻辣烫(武宁路店)',value:72.84,itemStyle:{color:'#e15759'}},{name:'宝山店',value:27.16,itemStyle:{color:ORANGE}}]);

const chart=echarts.init(document.getElementById('c'));
chart.setOption({animation:false,backgroundColor:'#fff',grid,xAxis,yAxis,series,
 legend:{data:mapBandNames,orient:'vertical',left:1255,top:234,itemWidth:14,itemHeight:14,itemGap:7,icon:'rect',selectedMode:false,z:70,textStyle:{color:'#555',fontSize:15,lineHeight:14,fontFamily:FONT},itemStyle:{opacity:1}},
 graphic:{elements:g}});
</script></body></html>
